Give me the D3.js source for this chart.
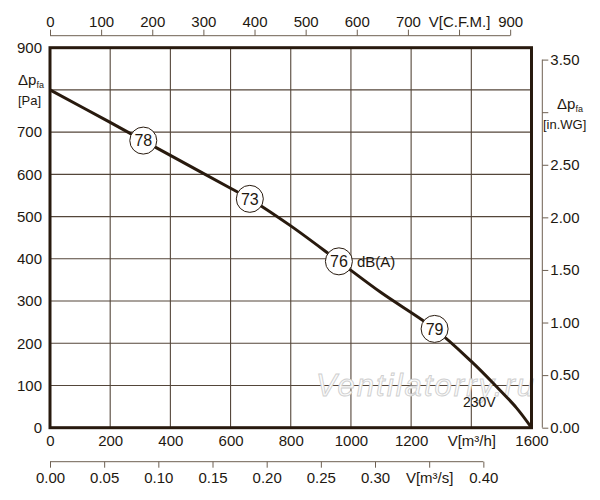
<!DOCTYPE html>
<html>
<head>
<meta charset="utf-8">
<script src="https://cdn.jsdelivr.net/npm/d3@7"></script>
<style>
  body { margin: 0; background: #fff; }
  svg { display: block; font-family: "Liberation Sans", Arial, sans-serif; }
  .axis text { fill: #1e1810; font-size: 15px; }
</style>
</head>
<body>
<svg id="chart" width="600" height="500"></svg>
<script>
// Fan curve: airflow in m3/h, static pressure in Pa
const flowM3h = [0, 200, 310, 400, 600, 664, 800, 960, 1100, 1278, 1400, 1480, 1550, 1600];
const pressurePa = [800, 723, 680, 645, 567, 542, 478, 394, 320, 234, 157, 100, 47, 0];

// Noise markers along the curve
const noiseFlow = [310, 664, 960, 1278];
const noisePa = [680, 542, 394, 234];
const noiseDb = [78, 73, 76, 79];

// Tick values
const m3hTicks = [0, 200, 400, 600, 800, 1000, 1200, 1400, 1600];
const paTicks = [0, 100, 200, 300, 400, 500, 600, 700, 800, 900];
const cfmTicks = [0, 100, 200, 300, 400, 500, 600, 700, 800, 900];
const m3sTicks = [0, 0.05, 0.1, 0.15, 0.2, 0.25, 0.3, 0.35, 0.4];
const inwgTicks = [0, 0.5, 1, 1.5, 2, 2.5, 3, 3.5];

const ink = "#281a0e";
const gridColor = "#54463a";

const svg = d3.select("#chart");

const plot = { left: 50, right: 531.5, top: 47.7, bottom: 427.7 };

// Scales
const x = d3.scaleLinear().domain([0, 1600]).range([plot.left, plot.right]);
const y = d3.scaleLinear().domain([0, 900]).range([plot.bottom, plot.top]);
const xCfm = d3.scaleLinear().domain([0, 1600 / 1.699]).range([plot.left, plot.right]);
const xM3s = d3.scaleLinear().domain([0, 1600 / 3600]).range([plot.left, plot.right]);
const yInWg = d3.scaleLinear().domain([0, 900 / 249.09]).range([plot.bottom, plot.top]);

// Grid lines
svg.append("g")
  .selectAll("line")
  .data(m3hTicks.slice(1, -1))
  .join("line")
  .attr("x1", d => x(d)).attr("x2", d => x(d))
  .attr("y1", plot.top).attr("y2", plot.bottom)
  .attr("stroke", gridColor).attr("stroke-width", 1.1);

svg.append("g")
  .selectAll("line")
  .data(paTicks.slice(1, -1))
  .join("line")
  .attr("x1", plot.left).attr("x2", plot.right)
  .attr("y1", d => y(d)).attr("y2", d => y(d))
  .attr("stroke", gridColor).attr("stroke-width", 1.1);

// Watermark
svg.append("text")
  .attr("x", 316)
  .attr("y", 396)
  .attr("font-style", "italic")
  .attr("font-size", 31)
  .attr("textLength", 218)
  .attr("fill", "#fbfbfb")
  .attr("stroke", "#cfcfcf")
  .attr("stroke-width", 0.9)
  .text("Ventilatorry.ru");

// Bottom axis m3/h (labels only)
const axM3h = svg.append("g")
  .attr("class", "axis")
  .attr("transform", `translate(0,${plot.bottom})`)
  .call(d3.axisBottom(x).tickValues(m3hTicks).tickSize(0).tickPadding(8)
    .tickFormat(d => d === 1400 ? "V[m³/h]" : d));
axM3h.select(".domain").remove();

// Left axis Pa (labels only)
const axPa = svg.append("g")
  .attr("class", "axis")
  .attr("transform", `translate(${plot.left},0)`)
  .call(d3.axisLeft(y).tickValues(paTicks).tickSize(0).tickPadding(8)
    .tickFormat(d => d === 800 ? "" : d));
axPa.select(".domain").remove();

// Top axis CFM
const axCfm = svg.append("g")
  .attr("class", "axis")
  .attr("transform", "translate(0,35.7)")
  .call(d3.axisTop(xCfm).tickValues(cfmTicks).tickSizeInner(6).tickSizeOuter(0).tickPadding(3)
    .tickFormat(d => d === 800 ? "V[C.F.M.]" : d));
axCfm.select(".domain").attr("d", `M${xCfm(0)},0H${xCfm(900)}`);

// Bottom axis m3/s
const axM3s = svg.append("g")
  .attr("class", "axis")
  .attr("transform", "translate(0,461.7)")
  .call(d3.axisBottom(xM3s).tickValues(m3sTicks).tickSizeInner(6).tickSizeOuter(0).tickPadding(5)
    .tickFormat(d => d === 0.35 ? "V[m³/s]" : d3.format(".2f")(d)));
axM3s.select(".domain").attr("d", `M${xM3s(0)},0H${xM3s(0.4)}`);

// Right axis in.WG
const axInWg = svg.append("g")
  .attr("class", "axis")
  .attr("transform", "translate(542.3,0)")
  .call(d3.axisRight(yInWg).tickValues(inwgTicks).tickSizeInner(6).tickSizeOuter(0).tickPadding(2)
    .tickFormat(d => d === 3 ? "" : d3.format(".2f")(d)));
axInWg.select(".domain").attr("d", `M0,${yInWg(3.5)}V${yInWg(0)}`);

svg.selectAll(".axis .domain, .axis .tick line")
  .attr("stroke", "#6e6052").attr("stroke-width", 1);

// Pressure unit labels
const leftLabel = svg.append("text").attr("fill", "#1e1810").attr("font-size", 15);
leftLabel.append("tspan").attr("x", 18).attr("y", 85).text("Δp");
leftLabel.append("tspan").attr("dy", 3).attr("font-size", 9).text("fa");
svg.append("text").attr("x", 18).attr("y", 105).attr("fill", "#1e1810").attr("font-size", 13).text("[Pa]");

const rightLabel = svg.append("text").attr("fill", "#1e1810").attr("font-size", 15);
rightLabel.append("tspan").attr("x", 557).attr("y", 109).text("Δp");
rightLabel.append("tspan").attr("dy", 3).attr("font-size", 9).text("fa");
svg.append("text").attr("x", 543).attr("y", 129).attr("fill", "#1e1810").attr("font-size", 13).text("[in.WG]");

// Plot frame
svg.append("rect")
  .attr("x", plot.left).attr("y", plot.top)
  .attr("width", plot.right - plot.left).attr("height", plot.bottom - plot.top)
  .attr("fill", "none").attr("stroke", ink).attr("stroke-width", 3);

// Fan curve
const line = d3.line()
  .x((d, i) => x(flowM3h[i]))
  .y(d => y(d))
  .curve(d3.curveCatmullRom.alpha(0.5));

svg.append("path")
  .datum(pressurePa)
  .attr("fill", "none")
  .attr("stroke", ink)
  .attr("stroke-width", 3)
  .attr("d", line);

// Noise markers
const marks = svg.append("g")
  .selectAll("g")
  .data(noiseDb)
  .join("g")
  .attr("transform", (d, i) => `translate(${x(noiseFlow[i])},${y(noisePa[i])})`);

marks.append("circle")
  .attr("r", 13.5)
  .attr("fill", "#fff")
  .attr("stroke", ink)
  .attr("stroke-width", 1);

marks.append("text")
  .attr("text-anchor", "middle")
  .attr("dy", "0.36em")
  .attr("font-size", 16)
  .attr("fill", "#1e1810")
  .text(d => d);

svg.append("text")
  .attr("x", x(noiseFlow[2]) + 18)
  .attr("y", y(noisePa[2]))
  .attr("dy", "0.36em")
  .attr("font-size", 15)
  .attr("fill", "#1e1810")
  .text("dB(A)");

svg.append("text")
  .attr("x", 463)
  .attr("y", 407)
  .attr("font-size", 14)
  .attr("fill", "#1e1810")
  .text("230V");
</script>
</body>
</html>
